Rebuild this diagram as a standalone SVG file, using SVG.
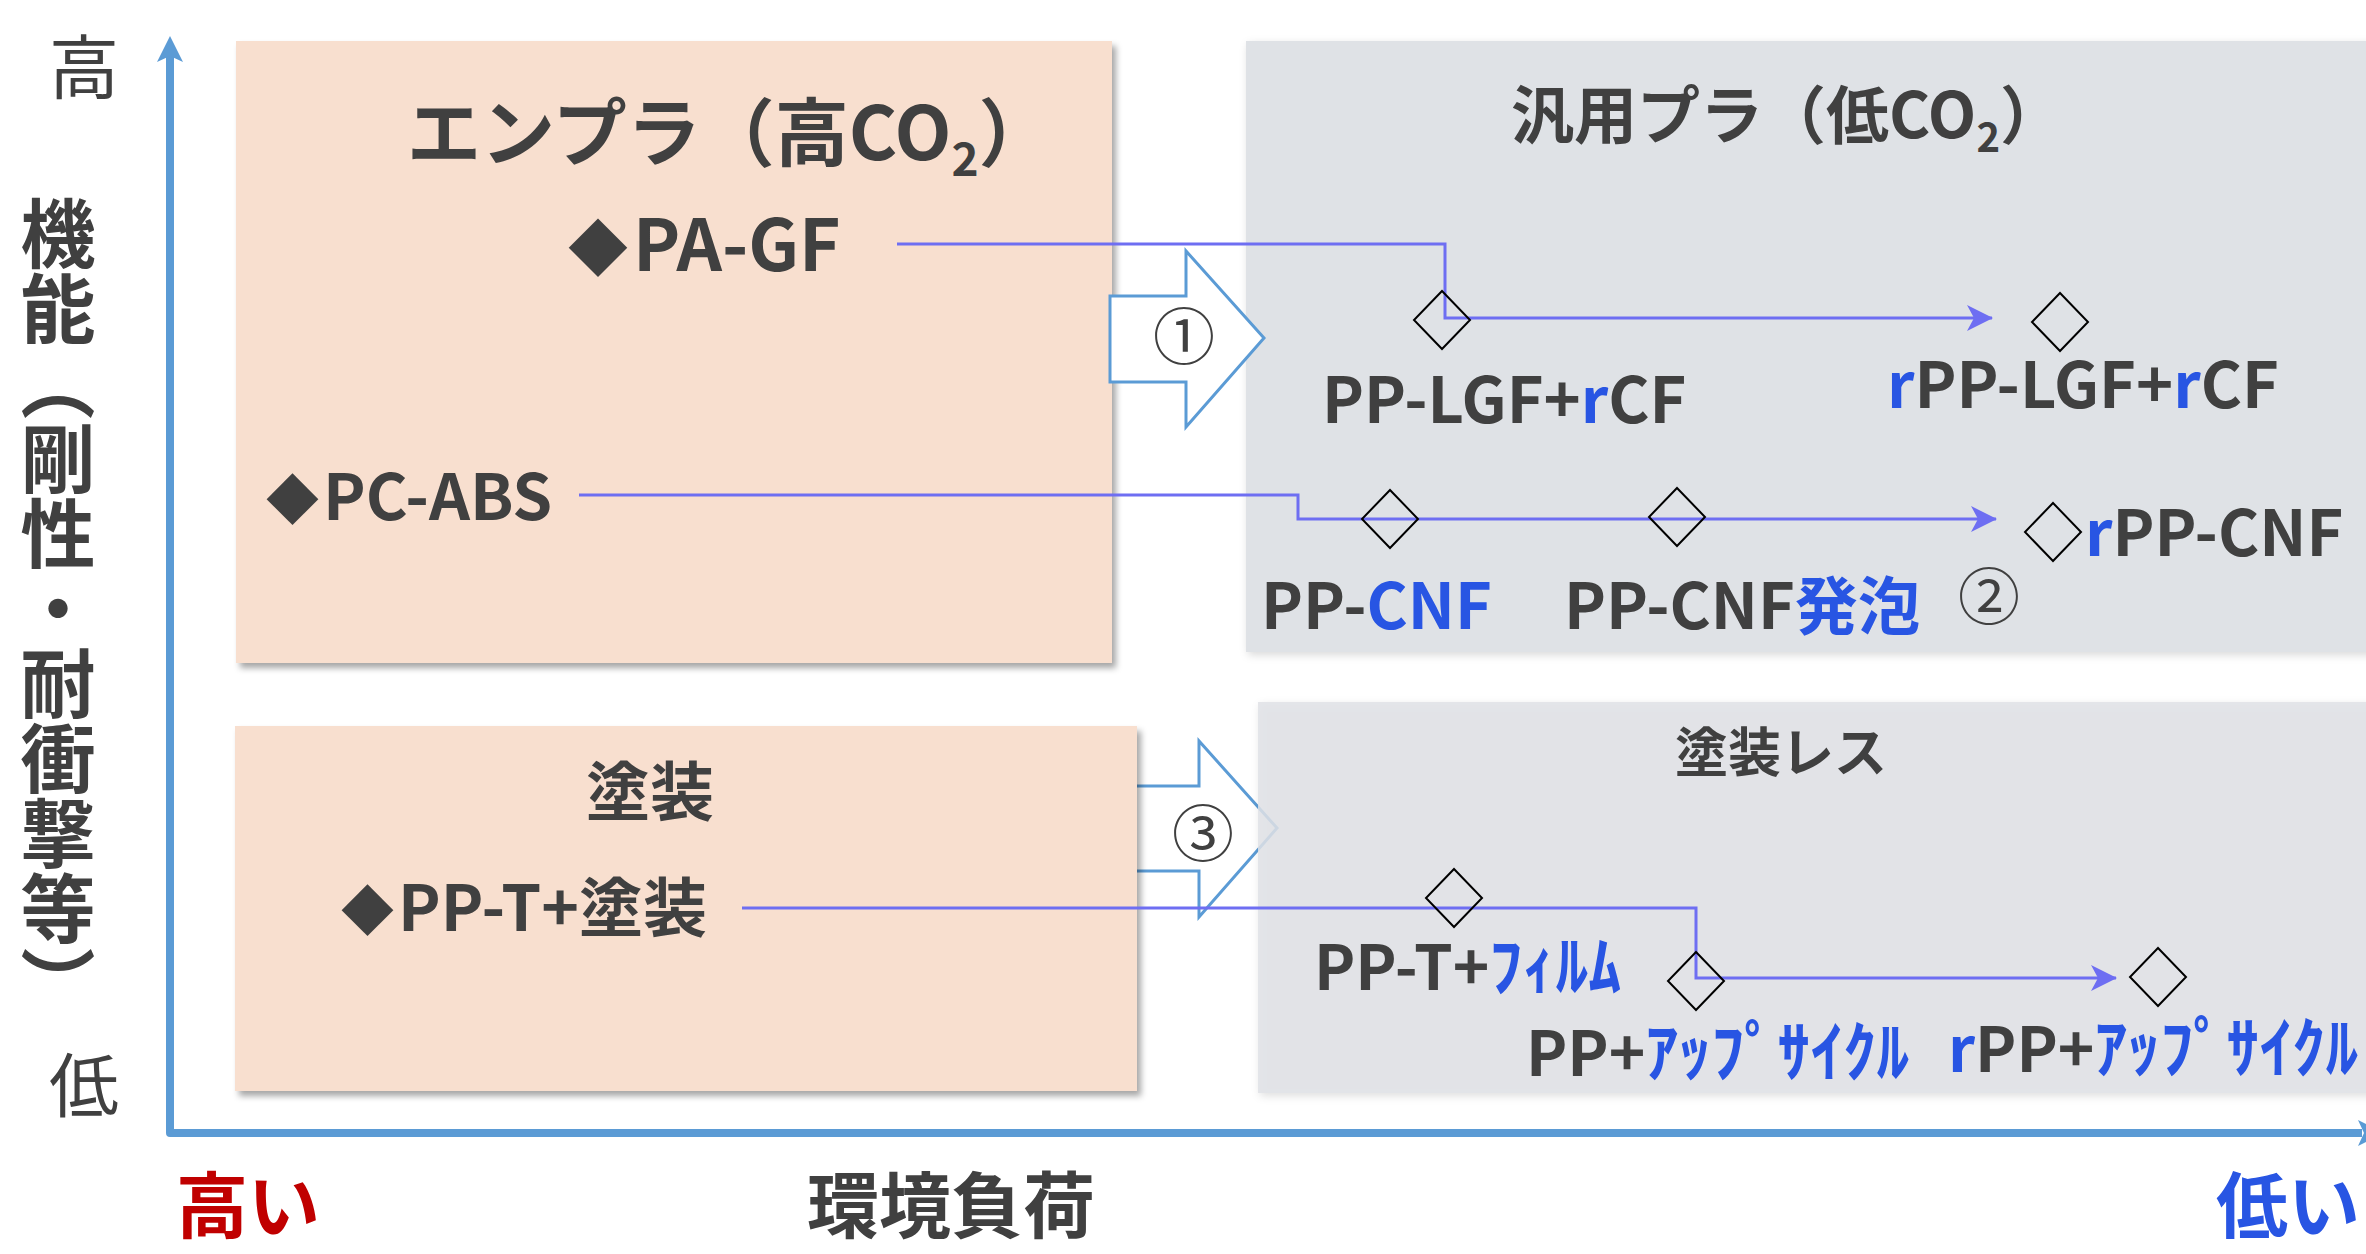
<svg xmlns="http://www.w3.org/2000/svg" width="2366" height="1254" viewBox="0 0 2366 1254">
<defs>
<style>
text{font-family:"Noto Sans CJK JP","Noto Sans",sans-serif;fill:#404040;font-weight:bold}
.reg{font-weight:normal}
.b{fill:#2855E3}
.red{fill:#C00000}
.kana{font-size:66px}
.peach{fill:#F8DFCF;filter:url(#sh1)}
.gray{fill:#DFE2E6;filter:url(#sh2)}
.dia{fill:none;stroke:#000;stroke-width:2}
.con{fill:none;stroke:#6E6EF2;stroke-width:3;marker-end:url(#ah)}
.blk{fill:#fff;stroke:#5B9BD5;stroke-width:3;stroke-linejoin:miter}
.axis{fill:none;stroke:#5B9BD5;stroke-width:8;stroke-linejoin:round}
</style>
<filter id="sh1" x="-5%" y="-5%" width="115%" height="115%">
<feDropShadow dx="4" dy="5" stdDeviation="3" flood-color="#000" flood-opacity="0.35"/>
</filter>
<filter id="sh2" x="-5%" y="-5%" width="115%" height="115%">
<feDropShadow dx="2" dy="3" stdDeviation="4" flood-color="#000" flood-opacity="0.15"/>
</filter>
<marker id="ah" viewBox="0 0 26 26" refX="25" refY="13" markerWidth="26" markerHeight="26" markerUnits="userSpaceOnUse" orient="auto">
<path d="M0,0 L26,13 L0,26 L7,13 z" fill="#6E6EF2"/>
</marker>
</defs>
<rect width="2366" height="1254" fill="#fff"/>

<g id="axes">
<path class="axis" d="M170,56 V1133 H2362"/>
<polygon points="170,36 183,62 170,56 157,62" fill="#5B9BD5"/>
<polygon points="2384,1133 2358,1120 2364,1133 2358,1146" fill="#5B9BD5"/>
<text class="reg" x="84" y="94" font-size="70" text-anchor="middle">高</text>
<text class="reg" x="84" y="1112" font-size="70" text-anchor="middle">低</text>
<text x="58" y="196" font-size="75" style="writing-mode:vertical-rl">機能（剛性・耐衝撃等）</text>
<text class="red" x="176" y="1232" font-size="72">高い</text>
<text x="807" y="1232" font-size="72">環境負荷</text>
<text class="b" x="2216" y="1232" font-size="72">低い</text>
</g>

<g id="arrow3">
<path class="blk" d="M1120,786 H1199 V741 L1277,828 L1199,917 V871 H1120 Z"/>
<text class="reg" x="1203" y="857" font-size="62" text-anchor="middle">③</text>
</g>

<g id="enpla">
<rect class="peach" x="236" y="41" width="876" height="622"/>
<text x="407" y="160" font-size="74">エンプラ（高CO<tspan font-size="46" dy="16">2</tspan><tspan dy="-16">）</tspan></text>
<text x="568" y="271" font-size="71"><tspan font-size="60">◆</tspan><tspan dx="5">PA-GF</tspan></text>
<text x="266" y="520" font-size="64"><tspan font-size="53">◆</tspan><tspan dx="4">PC-ABS</tspan></text>
</g>

<g id="hanyo">
<rect class="gray" x="1246" y="41" width="1130" height="611"/>
<text x="1511" y="138" font-size="63">汎用プラ（低CO<tspan font-size="40" dy="14">2</tspan><tspan dy="-14">）</tspan></text>
</g>

<g id="tosou">
<rect class="peach" x="235" y="726" width="902" height="365"/>
<text x="650" y="815" font-size="64" text-anchor="middle">塗装</text>
<text x="341" y="931" font-size="64"><tspan font-size="53">◆</tspan><tspan dx="4">PP-T+塗装</tspan></text>
</g>

<g id="tosouless">
<rect class="gray" x="1258" y="702" width="1118" height="391" fill-opacity="0.85"/>
<text x="1675" y="772" font-size="53">塗装レス</text>
</g>

<g id="arrow1">
<path class="blk" d="M1110,296 H1186 V251 L1264,338 L1186,427 V382 H1110 Z"/>
<text class="reg" x="1184" y="360" font-size="62" text-anchor="middle">①</text>
</g>

<g id="connectors">
<path class="con" d="M897,244 H1445 V318 H1992"/>
<path class="con" d="M579,495 H1298 V519 H1996"/>
<path class="con" d="M742,908 H1696 V978 H2116"/>
</g>

<g id="pp-lgf-rcf">
<polygon class="dia" points="1442,291 1470,320 1442,349 1414,320"/>
<text x="1322" y="423" font-size="63">PP-LGF+<tspan class="b">r</tspan>CF</text>
</g>
<g id="rpp-lgf-rcf">
<polygon class="dia" points="2060,293 2088,322 2060,351 2032,322"/>
<text x="1887" y="408" font-size="63"><tspan class="b">r</tspan>PP-LGF+<tspan class="b">r</tspan>CF</text>
</g>
<g id="pp-cnf">
<polygon class="dia" points="1390,490 1418,519 1390,548 1362,519"/>
<text x="1261" y="629" font-size="63">PP-<tspan class="b">CNF</tspan></text>
</g>
<g id="pp-cnf-foam">
<polygon class="dia" points="1677,488 1705,517 1677,546 1649,517"/>
<text x="1564" y="629" font-size="63">PP-CNF<tspan class="b">発泡</tspan></text>
<text class="reg" x="1989" y="620" font-size="62" text-anchor="middle">②</text>
</g>
<g id="rpp-cnf">
<polygon class="dia" points="2053,503 2081,532 2053,561 2025,532"/>
<text x="2085" y="556" font-size="63"><tspan class="b">r</tspan>PP-CNF</text>
</g>
<g id="pp-t-film">
<polygon class="dia" points="1454,869 1482,898 1454,927 1426,898"/>
<text x="1314" y="990" font-size="62">PP-T+<tspan class="b kana">ﾌｨﾙﾑ</tspan></text>
</g>
<g id="pp-upcycle">
<polygon class="dia" points="1696,952 1724,981 1696,1010 1668,981"/>
<text x="1526" y="1076" font-size="62">PP+<tspan class="b kana">ｱｯﾌﾟｻｲｸﾙ</tspan></text>
</g>
<g id="rpp-upcycle">
<polygon class="dia" points="2158,948 2186,977 2158,1006 2130,977"/>
<text x="1948" y="1072" font-size="62"><tspan class="b">r</tspan>PP+<tspan class="b kana">ｱｯﾌﾟｻｲｸﾙ</tspan></text>
</g>
</svg>
